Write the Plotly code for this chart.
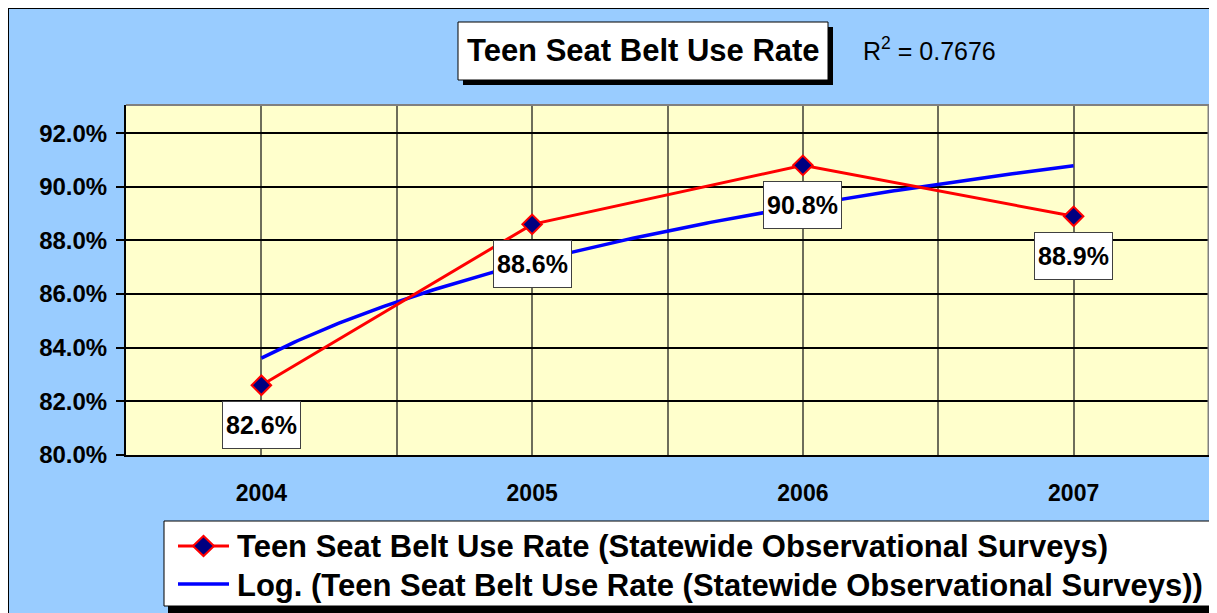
import numpy as np
import plotly.graph_objects as go

# --- data ---
years = [2004, 2005, 2006, 2007]
rates = [82.6, 88.6, 90.8, 88.9]
labels = ["82.6%", "88.6%", "90.8%", "88.9%"]
series_name = "Teen Seat Belt Use Rate (Statewide Observational Surveys)"
trend_name = "Log. (Teen Seat Belt Use Rate (Statewide Observational Surveys))"
y_ticks = [80, 82, 84, 86, 88, 90, 92]

# logarithmic trendline (Excel style, x = 1..n)
idx = np.arange(1, len(rates) + 1)
a, b = np.polyfit(np.log(idx), rates, 1)
fit = a * np.log(idx) + b
r2 = 1 - np.sum((np.array(rates) - fit) ** 2) / np.sum((np.array(rates) - np.mean(rates)) ** 2)
t = np.linspace(1, len(rates), 200)
trend_x = years[0] + (t - 1)
trend_y = a * np.log(t) + b

# --- geometry: page pixels, the page body adds an 8px offset ---
OFF = 8
PAGE_W, PAGE_H = 1217, 613
W, H = PAGE_W - OFF, PAGE_H - OFF
# plot area in page pixels
P_LEFT, P_TOP, P_RIGHT, P_BOTTOM = 126, 105, 1209, 455
ML, MT = P_LEFT - OFF, P_TOP - OFF
MR, MB = W - (P_RIGHT - OFF), H - (P_BOTTOM - OFF)
PW, PH = W - ML - MR, H - MT - MB
FONT = "Arial, Liberation Sans, sans-serif"


def fx(p):
    return (p - OFF - ML) / PW


def fy(p):
    return (H - MB - (p - OFF)) / PH


fig = go.Figure()
fig.add_trace(go.Scatter(
    x=trend_x, y=trend_y, mode="lines", name=trend_name,
    line=dict(color="#0000FF", width=3.5), showlegend=False,
))
fig.add_trace(go.Scatter(
    x=years, y=rates, mode="lines+markers", name=series_name,
    line=dict(color="#FF0000", width=3),
    marker=dict(symbol="diamond", size=15, color="#000080", line=dict(color="#FF0000", width=2)),
    showlegend=False,
))

shapes = []
ann = []

# outer frame
shapes.append(dict(type="rect", xref="paper", yref="paper", x0=fx(8), x1=fx(PAGE_W + 20), y0=fy(PAGE_H + 20), y1=fy(8),
                   fillcolor="rgba(0,0,0,0)", line=dict(color="black", width=2)))

# plot area top/right border
shapes.append(dict(type="line", xref="paper", yref="paper", x0=0, x1=1, y0=1, y1=1,
                   line=dict(color="#808080", width=2)))
shapes.append(dict(type="line", xref="paper", yref="paper", x0=1, x1=1, y0=0, y1=1,
                   line=dict(color="#808080", width=3)))

# title box with shadow
shapes.append(dict(type="rect", xref="paper", yref="paper", x0=fx(463), x1=fx(833), y0=fy(85), y1=fy(27),
                   fillcolor="black", line=dict(width=0)))
shapes.append(dict(type="rect", xref="paper", yref="paper", x0=fx(458), x1=fx(828), y0=fy(80), y1=fy(22),
                   fillcolor="white", line=dict(color="black", width=1)))
ann.append(dict(xref="paper", yref="paper", x=fx(643), y=fy(51), text="<b>Teen Seat Belt Use Rate</b>",
                showarrow=False, font=dict(size=31, color="black", family=FONT), xanchor="center", yanchor="middle"))
ann.append(dict(xref="paper", yref="paper", x=fx(861), y=fy(49), text=f"R<sup>2</sup> = {r2:.4f}",
                showarrow=False, font=dict(size=25, color="black", family=FONT), xanchor="left", yanchor="middle"))

# data labels
for xv, yv, lab in zip(years, rates, labels):
    ann.append(dict(x=xv, y=yv, text=f"<b>{lab}</b>", showarrow=False, yshift=-40,
                    font=dict(size=25, color="black", family=FONT), bgcolor="white",
                    bordercolor="#404040", borderwidth=1, width=77, height=46, borderpad=0))

# legend box (drawn by hand to match the original layout)
shapes.append(dict(type="rect", xref="paper", yref="paper", x0=fx(168), x1=fx(PAGE_W + 20), y0=fy(PAGE_H + 5), y1=fy(526),
                   fillcolor="black", line=dict(width=0)))
shapes.append(dict(type="rect", xref="paper", yref="paper", x0=fx(164), x1=fx(PAGE_W + 20), y0=fy(606), y1=fy(521),
                   fillcolor="white", line=dict(color="black", width=1)))
shapes.append(dict(type="line", xref="paper", yref="paper", x0=fx(178), x1=fx(229), y0=fy(546), y1=fy(546),
                   line=dict(color="#FF0000", width=3)))
shapes.append(dict(type="path", xref="paper", yref="paper",
                   path=f"M {fx(193)},{fy(546)} L {fx(203.5)},{fy(536)} L {fx(214)},{fy(546)} L {fx(203.5)},{fy(556)} Z",
                   fillcolor="#000080", line=dict(color="#FF0000", width=2)))
shapes.append(dict(type="line", xref="paper", yref="paper", x0=fx(178), x1=fx(229), y0=fy(584), y1=fy(584),
                   line=dict(color="#0000FF", width=3.5)))
ann.append(dict(xref="paper", yref="paper", x=fx(235), y=fy(546), text=f"<b>{series_name}</b>",
                showarrow=False, font=dict(size=31, color="black", family=FONT), xanchor="left", yanchor="middle"))
ann.append(dict(xref="paper", yref="paper", x=fx(235), y=fy(585), text=f"<b>{trend_name}</b>",
                showarrow=False, font=dict(size=31, color="black", family=FONT), xanchor="left", yanchor="middle"))

fig.update_layout(
    width=W, height=H,
    margin=dict(l=ML, r=MR, t=MT, b=MB),
    paper_bgcolor="#99CCFF",
    plot_bgcolor="#FFFFCC",
    font=dict(family=FONT, color="black"),
    showlegend=False,
    shapes=shapes,
    annotations=ann,
)
fig.update_xaxes(
    range=[2003.5, 2007.5], tickvals=years, ticktext=[f"<b>{y}</b>" for y in years],
    showgrid=True, gridcolor="#6E6E5A", gridwidth=1.5, zeroline=False,
    minor=dict(tick0=2003.5, dtick=0.5, showgrid=True, gridcolor="#6E6E5A", gridwidth=1.5, ticks=""),
    showline=True, linecolor="black", linewidth=2,
    ticks="", tickfont=dict(size=23, family=FONT), ticklabelstandoff=16,
)
fig.update_yaxes(
    range=[80, 93.05], tickvals=y_ticks, ticktext=[f"<b>{v:.1f}%</b>" for v in y_ticks],
    showgrid=True, gridcolor="black", gridwidth=1.5, zeroline=False,
    showline=True, linecolor="black", linewidth=2,
    ticks="outside", ticklen=8, tickcolor="black", tickwidth=1.5,
    tickfont=dict(size=24, family=FONT), ticklabelstandoff=4,
)

fig.write_html("out.html")
